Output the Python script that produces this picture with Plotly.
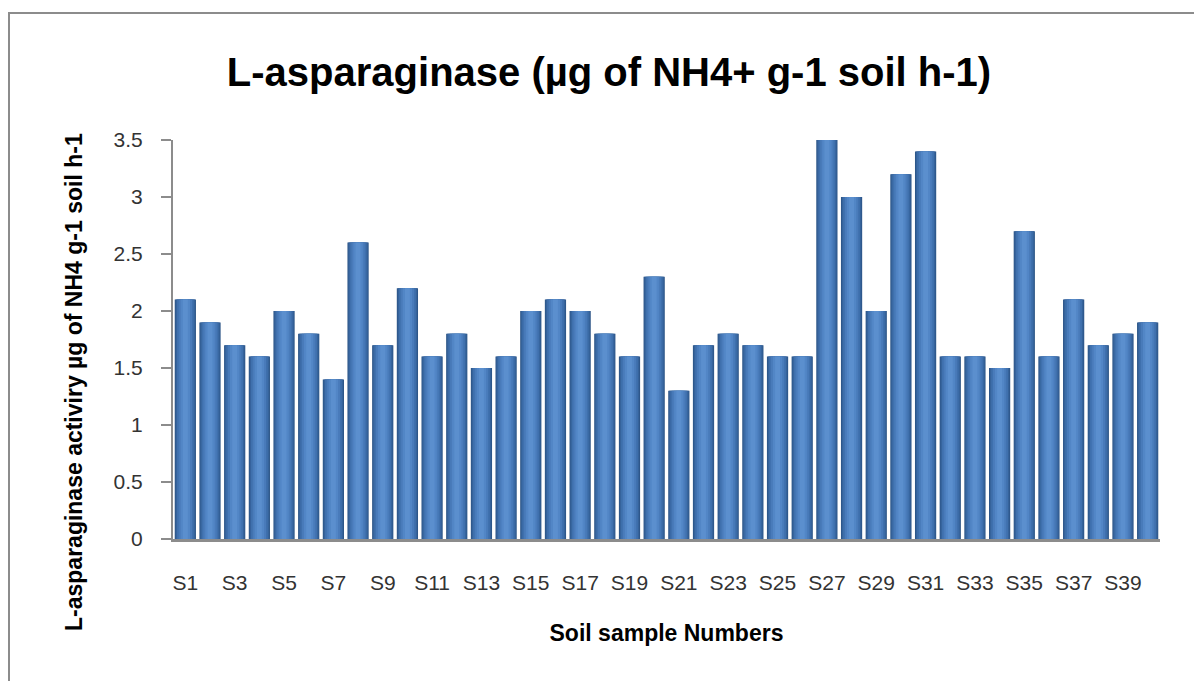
import plotly.graph_objects as go

samples = [f"S{i}" for i in range(1, 41)]
activity = [2.1, 1.9, 1.7, 1.6, 2.0, 1.8, 1.4, 2.6, 1.7, 2.2,
            1.6, 1.8, 1.5, 1.6, 2.0, 2.1, 2.0, 1.8, 1.6, 2.3,
            1.3, 1.7, 1.8, 1.7, 1.6, 1.6, 3.5, 3.0, 2.0, 3.2,
            3.4, 1.6, 1.6, 1.5, 2.7, 1.6, 2.1, 1.7, 1.8, 1.9]
tick_labels = samples[::2]
y_ticks = [0, 0.5, 1, 1.5, 2, 2.5, 3, 3.5]

FONT = "Liberation Sans, Arial"

fig = go.Figure()
# layered bars to mimic cylinder shading
for w, col in [(0.86, "#2C5587"), (0.79, "#36639B"), (0.68, "#3F70AD"), (0.54, "#497BBA"), (0.38, "#5286C6"), (0.2, "#5B8FCE")]:
    fig.add_trace(go.Bar(x=samples, y=activity, width=w, marker=dict(color=col, line=dict(width=0)),
                         showlegend=False, hoverinfo="skip"))

fig.update_layout(
    width=1202, height=681,
    barmode="overlay",
    paper_bgcolor="white", plot_bgcolor="white",
    margin=dict(l=165, r=50, t=132, b=150),
    title=dict(text="<b>L-asparaginase (µg of NH4+ g-1 soil h-1)</b>",
               x=0.5, xanchor="center", y=0.906, yanchor="middle",
               font=dict(family=FONT, size=40, color="black")),
    font=dict(family=FONT),
    xaxis=dict(type="category", tickmode="array", tickvals=tick_labels, ticktext=tick_labels,
               showline=True, linecolor="#8C8C8C", linewidth=3, ticks="",
               tickfont=dict(size=21, color="#333333"), ticklabelstandoff=23,
               title=dict(text="<b>Soil sample Numbers</b>", font=dict(size=23, color="black"), standoff=32),
               range=[-0.5, 39.5], showgrid=False),
    yaxis=dict(range=[0, 3.5], tickvals=y_ticks, ticktext=["0", "0.5", "1", "1.5", "2", "2.5", "3", "3.5"],
               showline=True, linecolor="#8C8C8C", linewidth=2, ticks="outside", ticklen=10,
               tickcolor="#8C8C8C", tickwidth=2, showgrid=False, zeroline=False,
               tickfont=dict(size=21, color="#333333"), ticklabelstandoff=14),
    annotations=[dict(text="<b>L-asparaginase activiry µg of NH4 g-1 soil h-1</b>",
                      xref="paper", yref="paper", x=-0.1003, y=0.3935,
                      xanchor="center", yanchor="middle", textangle=-90, showarrow=False,
                      font=dict(family=FONT, size=23, color="black"))],
    shapes=[dict(type="rect", xref="paper", yref="paper",
                 x0=-164/987, x1=1.2, y0=-0.5, y1=1 + 127/399,
                 line=dict(color="#8C8C8C", width=2), fillcolor="rgba(0,0,0,0)", layer="below")],
)

fig.write_html("out.html")
